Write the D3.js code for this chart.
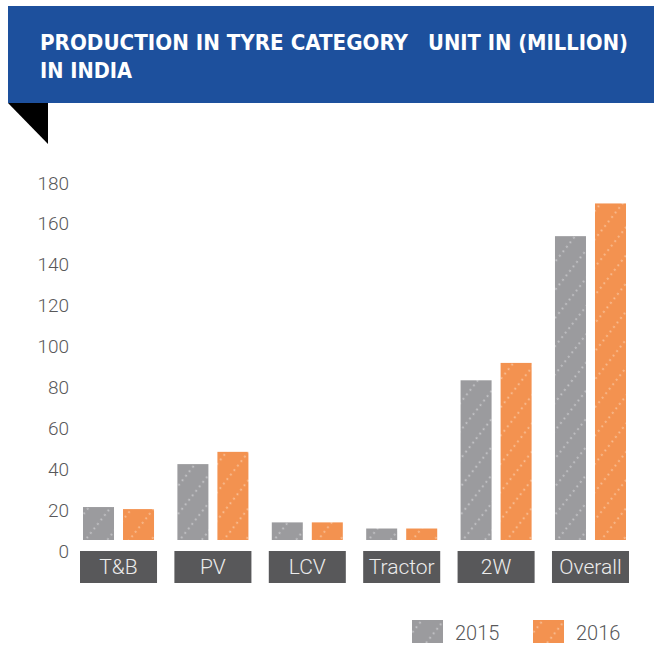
<!DOCTYPE html>
<html>
  <head>
    <title>Production in Tyre Category</title>
    <style>
      body { margin: 0; background: #fff; }
      text { font-family: Roboto, "Liberation Sans", Arial, sans-serif; }
      .axis text { font-size: 19px; fill: #58585a; font-weight: 300; }
      .title { font-family: "Liberation Sans Narrow", "DejaVu Sans Condensed", "Liberation Sans", Arial, sans-serif; font-weight: bold; font-size: 22px; fill: #fff; }
    </style>
  </head>

  <body>
    <div id="chart"></div>

    <script src="https://cdnjs.cloudflare.com/ajax/libs/d3/7.8.5/d3.min.js" type="text/javascript"></script>

<script>

  var categories = ["T&B", "PV", "LCV", "Tractor", "2W", "Overall"];
  var years = ["2015", "2016"];
  var values2015 = [21.5, 42.5, 14, 11, 83.5, 154];
  var values2016 = [20.5, 48.5, 14, 11, 92, 170];
  var yTicks = [0, 20, 40, 60, 80, 100, 120, 140, 160, 180];

  var width = 654, height = 645;
  var barBase = 540;

  var svg = d3.select('#chart')
    .append('svg')
    .attr("width", width)
    .attr("height", height);

  var colors = {"2015": "#9b9b9e", "2016": "#f39250"};
  var dotColors = {"2015": "#c3c3c6", "2016": "#f9bd92"};

  // dotted diagonal hatching
  var defs = svg.append("defs");
  years.forEach(function(yr) {
    var p = defs.append("pattern")
      .attr("id", "hatch" + yr)
      .attr("patternUnits", "userSpaceOnUse")
      .attr("width", 5.7)
      .attr("height", 17.3)
      .attr("patternTransform", "rotate(-52)");
    p.append("rect")
      .attr("width", 5.7).attr("height", 17.3)
      .attr("fill", colors[yr]);
    p.append("circle")
      .attr("cx", 2.8).attr("cy", 8)
      .attr("r", 1.1)
      .attr("fill", dotColors[yr]);
  });

  // title banner
  svg.append("rect")
    .attr("x", 8).attr("y", 6)
    .attr("width", width - 8).attr("height", 97)
    .attr("fill", "#1d509d");

  svg.append("path")
    .attr("d", "M8,103L48,103L48,144Z")
    .attr("fill", "#000");

  svg.append("text").attr("class", "title")
    .attr("x", 40).attr("y", 50)
    .attr("textLength", 368).attr("lengthAdjust", "spacingAndGlyphs")
    .text("PRODUCTION IN TYRE CATEGORY");
  svg.append("text").attr("class", "title")
    .attr("x", 428).attr("y", 50)
    .attr("textLength", 200).attr("lengthAdjust", "spacingAndGlyphs")
    .text("UNIT IN (MILLION)");
  svg.append("text").attr("class", "title")
    .attr("x", 40).attr("y", 78)
    .attr("textLength", 92).attr("lengthAdjust", "spacingAndGlyphs")
    .text("IN INDIA");

  var y = d3.scaleLinear()
    .domain([0, 180])
    .range([551, 183]);

  var x = d3.scaleBand()
    .domain(categories)
    .range([80, 629])
    .paddingInner(0.184)
    .paddingOuter(0);

  var xi = d3.scaleBand()
    .domain(years)
    .range([0, x.bandwidth()])
    .paddingInner(0.225)
    .paddingOuter(0.075);

  var yAxis = svg.append("g")
    .attr("class", "axis")
    .attr("transform", "translate(69,0)")
    .call(d3.axisLeft(y).tickValues(yTicks).tickSize(0).tickPadding(0));
  yAxis.select(".domain").remove();

  var rows = categories.map(function(c, i) {
    return {cat: c, vals: [{yr: "2015", v: values2015[i]}, {yr: "2016", v: values2016[i]}]};
  });

  var groups = svg.selectAll("g.cat")
    .data(rows)
    .enter()
    .append("g")
    .attr("class", "cat")
    .attr("transform", function(d) { return "translate(" + x(d.cat) + ",0)"; });

  groups.selectAll("rect.bar")
    .data(function(d) { return d.vals; })
    .enter()
    .append("rect")
    .attr("class", "bar")
    .attr("x", function(d) { return xi(d.yr); })
    .attr("y", function(d) { return y(d.v); })
    .attr("width", xi.bandwidth())
    .attr("height", function(d) { return barBase - y(d.v); })
    .attr("fill", function(d) { return "url(#hatch" + d.yr + ")"; });

  groups.append("rect")
    .attr("x", 0).attr("y", 551)
    .attr("width", x.bandwidth()).attr("height", 32)
    .attr("fill", "#58585a");

  groups.append("text")
    .attr("x", x.bandwidth() / 2)
    .attr("y", 574)
    .attr("text-anchor", "middle")
    .style("font-size", "21px")
    .style("font-weight", 300)
    .attr("fill", "#ececec")
    .text(function(d) { return d.cat; });

  // legend
  var legendX = [412, 533];
  var legend = svg.selectAll("g.legend")
    .data(years)
    .enter()
    .append("g")
    .attr("class", "legend")
    .attr("transform", function(d, i) { return "translate(" + legendX[i] + ",620)"; });

  legend.append("rect")
    .attr("width", 31).attr("height", 23)
    .attr("fill", function(d) { return "url(#hatch" + d + ")"; });

  legend.append("text")
    .attr("x", 43).attr("y", 20)
    .style("font-size", "20px")
    .style("font-weight", 300)
    .attr("fill", "#58585a")
    .text(function(d) { return d; });

</script>
  </body>
</html>
